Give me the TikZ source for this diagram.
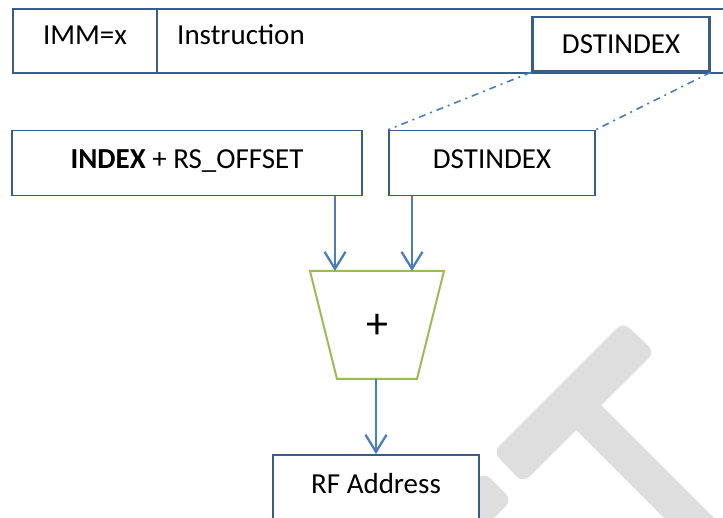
\documentclass[tikz,border=0pt]{standalone}
\usepackage{fontspec}
\setmainfont{Carlito}
\usetikzlibrary{arrows.meta}
\definecolor{boxblue}{HTML}{385D8A}
\definecolor{arrblue}{HTML}{4A7EBB}
\definecolor{addgreen}{HTML}{9BBB59}
\definecolor{wmgray}{HTML}{DEDEDE}
\tikzset{
  regbox/.style={draw=boxblue, line width=1.6pt, fill=white, inner sep=0pt},
  lbl/.style={inner sep=0pt, anchor=base, font=\fontsize{29}{34}\selectfont},
  arr/.style={draw=arrblue, line width=2.3pt, -{Straight Barb[length=17pt,width=21pt,line width=2.3pt]}},
  dd/.style={draw=arrblue, line width=1.6pt, dash pattern=on 7pt off 5pt on 2pt off 5pt},
  wm/.style={fill=wmgray}
}
\begin{document}
\begin{tikzpicture}[x=1pt,y=-1pt]
\useasboundingbox (0,0) rectangle (723,518);
\clip (0,0) rectangle (723,518);
% watermark
\fill[wm, rounded corners=9pt] (623,322) -- (655,352) -- (523,483) -- (493,452) -- cycle;
\fill[wm] (568,422) -- (593,397) -- (740,544) -- (715,569) -- cycle;
\fill[wm, rounded corners=9pt] (484,472) -- (512,500) -- (432,580) -- (404,552) -- cycle;
% instruction word
\node[regbox, anchor=north west, minimum width=730pt, minimum height=64pt] (instr) at (12,8) {};
\draw[boxblue, line width=1.6pt] (157,8) -- (157,72);
\node[lbl] (imm) at (85,45) {IMM=x};
\node[lbl, anchor=base west] (instrtxt) at (177,45) {Instruction};
\node[regbox, line width=2.6pt, minimum width=177pt, minimum height=54pt] (dst1) at (621,44) {};
\node[lbl] (dst1t) at (621,54) {DSTINDEX};
% operand boxes
\node[regbox, minimum width=350pt, minimum height=65pt] (idx) at (187,163) {};
\node[lbl] (idxt) at (187,169) {\textbf{INDEX} + RS\_OFFSET};
\node[regbox, minimum width=206pt, minimum height=65pt] (dst2) at (492,163) {};
\node[lbl] (dst2t) at (492,169) {DSTINDEX};
% dash-dot projection
\draw[dd] (dst1.south west) -- (dst2.north west);
\draw[dd] (dst1.south east) -- (dst2.north east);
% adder
\coordinate (tl) at (310,271);
\coordinate (tr) at (444,271);
\coordinate (br) at (417,379);
\coordinate (bl) at (337,379);
\draw[addgreen, line width=2pt] (tl) -- (tr) -- (br) -- (bl) -- cycle;
\node[inner sep=0pt, font=\fontsize{44}{50}\selectfont] (add) at (377,326) {+};
\coordinate (a1) at (335,0);
\coordinate (a2) at (412,0);
\coordinate (addbot) at (376,379);
% result
\node[regbox, anchor=north, minimum width=206pt, minimum height=75pt] (rf) at (376,454) {};
\node[lbl] (rft) at (376,493) {RF Address};
% arrows
\draw[arr] (idx.south -| a1) -- (tl -| a1);
\draw[arr] (dst2.south -| a2) -- (tl -| a2);
\draw[arr] (addbot) -- (addbot |- rf.north);
\end{tikzpicture}
\end{document}
